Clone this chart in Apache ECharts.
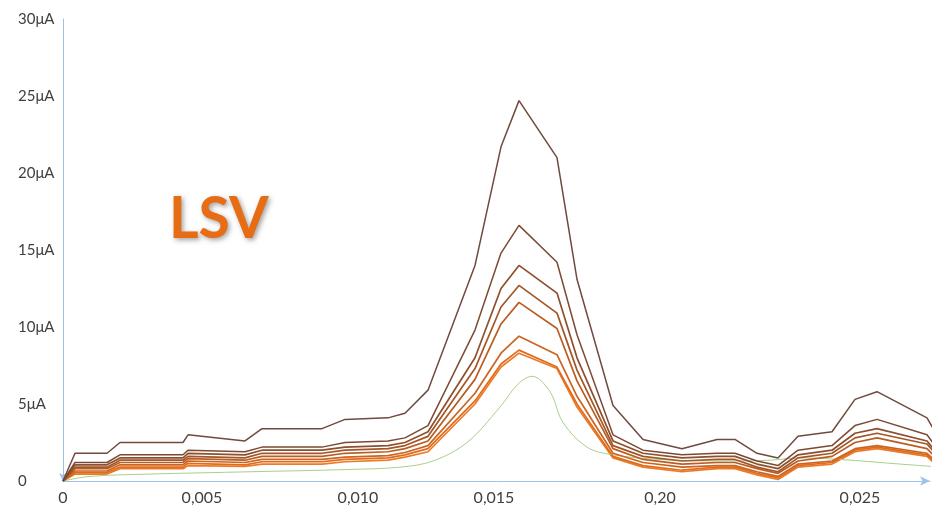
<!DOCTYPE html>
<html>
<head>
<meta charset="utf-8">
<script src="https://cdn.jsdelivr.net/npm/echarts@6/dist/echarts.min.js"></script>
<style>
  html, body { margin: 0; padding: 0; background: #ffffff; }
  #chart { width: 942px; height: 512px; }
</style>
</head>
<body>
<div id="chart"></div>
<script>
// Scan position of each vertex along the sweep (axis units)
const scanPos = [0, 12, 44, 57, 120, 125, 182, 199, 259, 282, 325, 342, 365, 412, 438, 456, 494, 514, 550, 580, 619, 654, 672, 694, 715, 735, 769, 792, 814, 864, 879];

// Tick positions on the potential axis and their labels
const xTickPos = [0, 139, 295, 431, 597, 797];
const xTickLabels = ['0', '0,005', '0,010', '0,015', '0,20', '0,025'];
const yTickLabels = ['0', '5μA', '10μA', '15μA', '20μA', '25μA', '30μA'];

// Current (μA) for each concentration
const curve1 = [0, 1.8, 1.8, 2.5, 2.5, 3.0, 2.6, 3.4, 3.4, 4.0, 4.1, 4.4, 5.9, 14.0, 21.7, 24.7, 21.0, 13.1, 4.9, 2.7, 2.1, 2.7, 2.7, 1.8, 1.5, 2.9, 3.2, 5.3, 5.8, 4.1, 2.4];
const curve2 = [0, 1.2, 1.2, 1.7, 1.7, 2.0, 1.9, 2.2, 2.2, 2.5, 2.6, 2.8, 3.6, 9.8, 14.8, 16.6, 14.2, 9.5, 3.0, 2.0, 1.7, 1.8, 1.8, 1.3, 1.0, 2.0, 2.3, 3.6, 4.0, 3.0, 1.7];
const curve3 = [0, 1.05, 1.05, 1.5, 1.5, 1.8, 1.7, 2.0, 2.0, 2.2, 2.3, 2.5, 3.2, 8.0, 12.5, 14.0, 12.2, 8.0, 2.6, 1.8, 1.5, 1.6, 1.6, 1.1, 0.8, 1.7, 2.0, 3.1, 3.4, 2.6, 1.4];
const curve4 = [0, 0.9, 0.9, 1.35, 1.35, 1.6, 1.5, 1.8, 1.8, 2.0, 2.1, 2.3, 2.9, 7.3, 11.3, 12.7, 10.9, 7.2, 2.3, 1.6, 1.3, 1.4, 1.4, 0.9, 0.6, 1.5, 1.8, 2.8, 3.1, 2.4, 1.3];
const curve5 = [0, 0.8, 0.8, 1.2, 1.2, 1.45, 1.35, 1.6, 1.6, 1.8, 1.9, 2.1, 2.6, 6.6, 10.2, 11.6, 9.9, 6.5, 2.1, 1.4, 1.1, 1.2, 1.2, 0.8, 0.5, 1.3, 1.6, 2.5, 2.8, 2.1, 1.1];
const curve6 = [0, 0.65, 0.65, 1.05, 1.05, 1.3, 1.2, 1.4, 1.4, 1.55, 1.65, 1.85, 2.3, 5.7, 8.3, 9.4, 8.2, 5.5, 1.8, 1.2, 0.9, 1.0, 1.0, 0.6, 0.3, 1.1, 1.3, 2.1, 2.3, 1.8, 0.9];
const curve7 = [0, 0.55, 0.55, 0.9, 0.9, 1.15, 1.05, 1.25, 1.25, 1.4, 1.5, 1.7, 2.1, 5.2, 7.6, 8.5, 7.4, 5.0, 1.6, 1.0, 0.7, 0.9, 0.9, 0.5, 0.2, 1.0, 1.2, 2.0, 2.2, 1.7, 0.8];
const curve8 = [0, 0.45, 0.45, 0.8, 0.8, 1.0, 0.95, 1.1, 1.1, 1.25, 1.35, 1.55, 1.9, 5.0, 7.4, 8.3, 7.3, 4.8, 1.5, 0.9, 0.6, 0.8, 0.8, 0.4, 0.1, 0.9, 1.1, 1.9, 2.1, 1.6, 0.7];

// Blank (supporting electrolyte) trace, sampled at its own positions
const blankPos = [0, 27, 87, 187, 287, 337, 370, 404, 437, 455, 469, 487, 500, 524, 550, 597, 657, 707, 737, 777, 837, 879];
const blankVal = [0, 0.3, 0.45, 0.6, 0.75, 0.9, 1.3, 2.5, 4.8, 6.3, 6.8, 5.8, 3.8, 2.2, 1.7, 1.4, 1.3, 1.35, 1.5, 1.4, 1.1, 0.9];

const curveColors = ['#6f4a3d', '#7c4a33', '#8e4f2c', '#a35628', '#b95d23', '#cc641f', '#df6c1d', '#ee7a26'];
const curves = [curve1, curve2, curve3, curve4, curve5, curve6, curve7, curve8];

const pair = (xs, ys) => xs.map((x, i) => [x, ys[i]]);

const series = curves.map((c, k) => ({
  type: 'line',
  data: pair(scanPos, c),
  symbol: 'none',
  clip: false,
  z: 10 - k,
  lineStyle: { color: curveColors[k], width: k < 2 ? 1.5 : 1.7 }
}));
series.push({
  type: 'line',
  data: pair(blankPos, blankVal),
  symbol: 'none',
  smooth: 0.35,
  clip: false,
  lineStyle: { color: '#a9cf8c', width: 1 }
});

const axisColor = '#9dc3e6';
const chart = echarts.init(document.getElementById('chart'), null, { renderer: 'canvas' });
chart.setOption({
  animation: false,
  backgroundColor: '#ffffff',
  title: {
    text: 'LSV',
    left: 164,
    top: 186,
    textStyle: {
      color: '#e66d14',
      fontSize: 57,
      fontWeight: 'bold',
      fontFamily: 'Lato',
      textShadowColor: 'rgba(70,70,70,0.5)',
      textShadowBlur: 5,
      textShadowOffsetX: 2,
      textShadowOffsetY: 2
    }
  },
  grid: { left: 63, right: 12, top: 19, bottom: 31, containLabel: false },
  xAxis: {
    type: 'value',
    min: 0,
    max: 867,
    splitLine: { show: false },
    axisTick: { show: false },
    axisLine: {
      show: true,
      symbol: ['none', 'arrow'],
      symbolSize: [7, 10],
      lineStyle: { color: axisColor, width: 1 }
    },
    axisLabel: {
      customValues: xTickPos,
      formatter: (v) => {
        const i = xTickPos.indexOf(v);
        return i >= 0 ? xTickLabels[i] : '';
      },
      color: '#404040',
      fontFamily: 'Lato',
      fontSize: 16,
      margin: 9
    }
  },
  yAxis: {
    type: 'value',
    min: 0,
    max: 30,
    interval: 5,
    splitLine: { show: false },
    axisTick: { show: false },
    axisLine: {
      show: true,
      symbol: ['arrow', 'none'],
      symbolSize: [6, 8],
      lineStyle: { color: axisColor, width: 1 }
    },
    axisLabel: {
      align: 'left',
      margin: 45,
      formatter: (v) => yTickLabels[Math.round(v / 5)],
      color: '#404040',
      fontFamily: 'Lato',
      fontSize: 15
    }
  },
  series: series
});
</script>
</body>
</html>
